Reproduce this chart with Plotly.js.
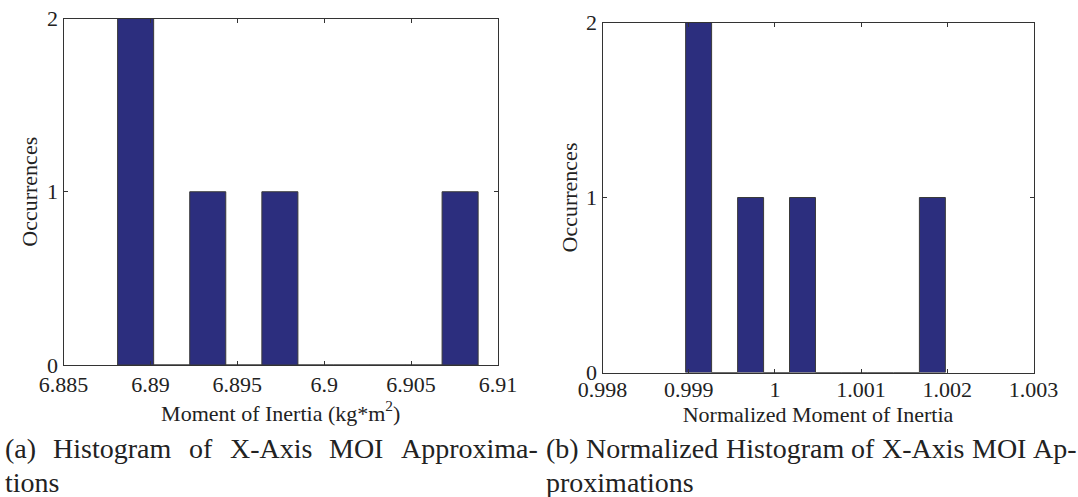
<!DOCTYPE html>
<html>
<head>
<meta charset="utf-8">
<script src="https://cdn.plot.ly/plotly-3.0.1.min.js"></script>
<style>
  html, body { margin: 0; padding: 0; background: #fff; }
  #chart { width: 1078px; height: 497px; }
</style>
</head>
<body>
<div id="chart"></div>
<script>
// ---- Data ----
// (a) Histogram of X-axis MOI approximations: 10 bins (centres) and counts
const moiBinCenters = [6.88915, 6.89122, 6.89330, 6.89537, 6.89745, 6.89952, 6.90160, 6.90367, 6.90574, 6.90782];
const moiCounts     = [2, 0, 1, 0, 1, 0, 0, 0, 0, 1];
const moiBinWidth   = 0.002074;

// (b) Normalized histogram: 10 bins (centres) and counts
const normBinCenters = [0.999115, 0.999416, 0.999718, 1.000019, 1.000320, 1.000622, 1.000923, 1.001224, 1.001526, 1.001827];
const normCounts     = [2, 0, 1, 0, 1, 0, 0, 0, 0, 1];
const normBinWidth   = 0.0003013;

// Tick values / labels
const moiTickVals  = [6.885, 6.89, 6.895, 6.9, 6.905, 6.91];
const moiTickText  = ['6.885', '6.89', '6.895', '6.9', '6.905', '6.91'];
const normTickVals = [0.998, 0.999, 1.000, 1.001, 1.002, 1.003];
const normTickText = ['0.998', '0.999', '1', '1.001', '1.002', '1.003'];
const countTickVals = [0, 1, 2];
const countTickText = ['0', '1', '2'];

// Captions (lines as typeset in the source)
const captionA = ['(a) Histogram of X-Axis MOI Approxima-', 'tions'];
const captionB = ['(b) Normalized Histogram of X-Axis MOI Ap-', 'proximations'];

// ---- Styling ----
const W = 1078, H = 497;
const SERIF = 'Liberation Serif, Times New Roman, serif';
const TXT = '#222222';
const BAR = '#2c2e7e';
const EDGE = '#3a3a3a';

function px2x(px) { return px / W; }
function px2y(py) { return 1 - py / H; }

const traces = [
  {
    type: 'bar', x: moiBinCenters, y: moiCounts, width: moiBinWidth,
    marker: { color: BAR, line: { color: EDGE, width: 1 } },
    xaxis: 'x', yaxis: 'y', hoverinfo: 'x+y', showlegend: false
  },
  {
    type: 'bar', x: normBinCenters, y: normCounts, width: normBinWidth,
    marker: { color: BAR, line: { color: EDGE, width: 1 } },
    xaxis: 'x2', yaxis: 'y2', hoverinfo: 'x+y', showlegend: false
  }
];

function axisCommon() {
  return {
    showline: true, linecolor: '#333', linewidth: 1, mirror: 'ticks',
    ticks: 'inside', ticklen: 4, tickcolor: '#333', tickwidth: 1,
    showgrid: false, zeroline: false, fixedrange: true,
    tickfont: { family: SERIF, size: 22, color: TXT },
    tickmode: 'array'
  };
}

const layout = {
  width: W, height: H,
  margin: { l: 0, r: 0, t: 0, b: 0, pad: 0 },
  paper_bgcolor: '#ffffff', plot_bgcolor: '#ffffff',
  bargap: 0,
  showlegend: false,
  font: { family: SERIF, color: TXT },
  xaxis: Object.assign(axisCommon(), {
    domain: [px2x(63.5), px2x(498)], anchor: 'y',
    range: [6.885, 6.91], tickvals: moiTickVals, ticktext: moiTickText,
    title: { text: 'Moment of Inertia (kg*m<sup>2</sup>)', font: { family: SERIF, size: 22, color: TXT }, standoff: 2 }
  }),
  yaxis: Object.assign(axisCommon(), {
    domain: [px2y(365), px2y(18.5)], anchor: 'x',
    range: [0, 2], tickvals: countTickVals, ticktext: countTickText,
    title: { text: 'Occurrences', font: { family: SERIF, size: 22, color: TXT }, standoff: 3 }
  }),
  xaxis2: Object.assign(axisCommon(), {
    domain: [px2x(602.5), px2x(1033.5)], anchor: 'y2',
    range: [0.998, 1.003], tickvals: normTickVals, ticktext: normTickText,
    ticklabelstandoff: -3,
    title: { text: 'Normalized Moment of Inertia', font: { family: SERIF, size: 22, color: TXT }, standoff: 0 }
  }),
  yaxis2: Object.assign(axisCommon(), {
    domain: [px2y(372.5), px2y(22.5)], anchor: 'x2',
    range: [0, 2], tickvals: countTickVals, ticktext: countTickText,
    title: { text: 'Occurrences', font: { family: SERIF, size: 22, color: TXT }, standoff: 2 }
  }),
  annotations: []
};

// ---- Captions: first lines justified (after measuring rendered words) ----
const CAP_SIZE = 28;
const justified = []; // {indices, left, right}

function addLine(text, left, right, centerY, justify) {
  const words = justify ? text.split(' ') : [text];
  const indices = [];
  words.forEach(w => {
    indices.push(layout.annotations.length);
    layout.annotations.push({
      xref: 'paper', yref: 'paper', x: px2x(left), y: px2y(centerY),
      xanchor: 'left', yanchor: 'middle', showarrow: false, borderpad: 0,
      text: w, font: { family: SERIF, size: CAP_SIZE, color: TXT }
    });
  });
  if (justify) justified.push({ indices, left, right });
}

addLine(captionA[0], 4, 537, 448, true);
addLine(captionA[1], 4, 537, 482, false);
addLine(captionB[0], 545, 1076, 448, true);
addLine(captionB[1], 545, 1076, 482, false);

Plotly.newPlot('chart', traces, layout, { displayModeBar: false, staticPlot: true }).then(gd => {
  const widthOf = {};
  gd.querySelectorAll('.annotation').forEach(g => {
    const idx = +g.getAttribute('data-index');
    const t = g.querySelector('.annotation-text');
    widthOf[idx] = t ? t.getComputedTextLength() : 0;
  });
  const upd = {};
  justified.forEach(line => {
    const ws = line.indices.map(i => widthOf[i] || 0);
    const total = ws.reduce((a, b) => a + b, 0);
    const gap = (line.right - line.left - total) / (ws.length - 1);
    let x = line.left;
    line.indices.forEach((i, k) => {
      upd['annotations[' + i + '].x'] = px2x(x);
      x += ws[k] + gap;
    });
  });
  return Plotly.relayout(gd, upd);
});
</script>
</body>
</html>
